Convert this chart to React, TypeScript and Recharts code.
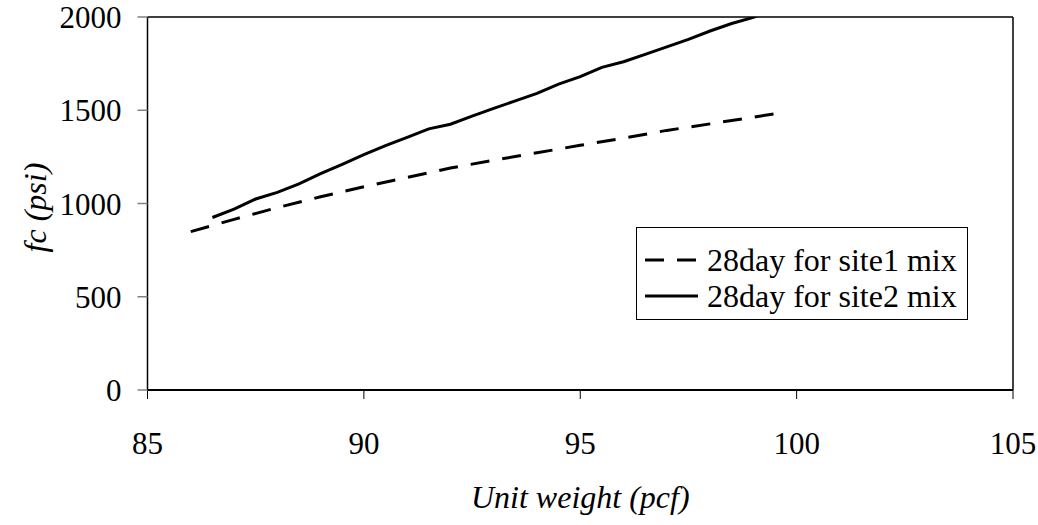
import React from 'react';
import { LineChart, Line, XAxis, YAxis, ReferenceLine, Legend, Label } from 'recharts';

const site1Weight = [86.0, 87.0, 88.0, 89.0, 90.0, 91.0, 92.0, 93.0, 94.0, 95.0, 96.0, 97.0, 98.0, 99.0, 99.6];
const site1Strength = [849, 915, 978, 1036, 1090, 1140, 1190, 1232, 1272, 1312, 1350, 1392, 1427, 1463, 1485];

const site2Weight = [86.5, 87.0, 87.5, 88.0, 88.5, 89.0, 89.5, 90.0, 90.5, 91.0, 91.5, 92.0, 92.5, 93.0, 93.5, 94.0, 94.5, 95.0, 95.5, 96.0, 96.5, 97.0, 97.5, 98.0, 98.5, 99.0, 99.1];
const site2Strength = [925, 970, 1024, 1060, 1105, 1160, 1210, 1262, 1310, 1355, 1400, 1425, 1468, 1510, 1550, 1590, 1640, 1680, 1730, 1760, 1800, 1840, 1880, 1925, 1965, 1998, 2008];

const seriesNames = ['28day for site1 mix', '28day for site2 mix'];
const xTicks = [85, 90, 95, 100, 105];
const yTicks = [0, 500, 1000, 1500, 2000];
const xTitle = 'Unit weight (pcf)';
const yTitle = 'fc (psi)';

const site1Data = site1Weight.map((w, i) => ({ w, fc: site1Strength[i] }));
const site2Data = site2Weight.map((w, i) => ({ w, fc: site2Strength[i] }));

const FONT = 'Liberation Serif, Tinos, Times, DejaVu Serif, serif';

const YTitle = (props: any) => {
  const vb = props.viewBox || {};
  const cx = vb.x + 35;
  const cy = vb.y + vb.height / 2 + 4;
  return (
    <text
      x={cx}
      y={cy}
      transform={`rotate(-90, ${cx}, ${cy})`}
      textAnchor="middle"
      dominantBaseline="central"
      fontFamily={FONT}
      fontStyle="italic"
      fontSize={32}
      fill="#000"
    >
      {yTitle}
    </text>
  );
};

const XTitle = (props: any) => {
  const vb = props.viewBox || {};
  return (
    <text
      x={vb.x + vb.width / 2}
      y={vb.y + 118}
      textAnchor="middle"
      fontFamily={FONT}
      fontStyle="italic"
      fontSize={32}
      fill="#000"
    >
      {xTitle}
    </text>
  );
};

const LegendBox = (props: any) => {
  const payload = props.payload || [];
  return (
    <div
      style={{
        border: '1.5px solid #000',
        background: '#fff',
        width: 332,
        height: 93,
        boxSizing: 'border-box',
        position: 'relative',
        fontFamily: FONT,
        fontSize: 32,
        color: '#000',
      }}
    >
      {payload.map((entry: any, i: number) => {
        const dashed = entry.value === seriesNames[0];
        return (
          <div
            key={entry.value}
            style={{
              position: 'absolute',
              left: 0,
              top: 14 + i * 36,
              height: 36,
              display: 'flex',
              alignItems: 'center',
              whiteSpace: 'nowrap',
            }}
          >
            <svg width={70} height={36} style={{ display: 'block' }}>
              <line
                x1={8}
                y1={18}
                x2={61}
                y2={18}
                stroke="#000"
                strokeWidth={3}
                strokeDasharray={dashed ? '19 13' : undefined}
              />
            </svg>
            <span style={{ lineHeight: '36px' }}>{entry.value}</span>
          </div>
        );
      })}
    </div>
  );
};

export default function App() {
  return (
    <div style={{ position: 'absolute', left: 0, top: 0, width: 1038, height: 525, background: '#fff' }}>
      <LineChart width={1038} height={525} margin={{ top: 17, right: 25, bottom: 0, left: 0 }}>
        <XAxis
          dataKey="w"
          type="number"
          domain={[85, 105]}
          ticks={xTicks}
          allowDuplicatedCategory={false}
          height={135}
          tickSize={9}
          tickMargin={33}
          axisLine={{ stroke: '#000', strokeWidth: 2 }}
          tickLine={{ stroke: '#000', strokeWidth: 1 }}
          tick={{ fill: '#000', fontSize: 31, fontFamily: FONT }}
          interval={0}
        >
          <Label content={<XTitle />} />
        </XAxis>
        <YAxis
          dataKey="fc"
          type="number"
          domain={[0, 2000]}
          ticks={yTicks}
          allowDataOverflow
          width={147.5}
          tickSize={10}
          tickMargin={16}
          axisLine={{ stroke: '#000', strokeWidth: 1.5 }}
          tickLine={{ stroke: '#808080', strokeWidth: 1.5 }}
          tick={{ fill: '#000', fontSize: 31, fontFamily: FONT }}
          interval={0}
        >
          <Label content={<YTitle />} />
        </YAxis>
        <ReferenceLine y={2000} stroke="#000" strokeWidth={1.5} />
        <ReferenceLine x={105} stroke="#000" strokeWidth={1.5} />
        <Line
          data={site1Data}
          dataKey="fc"
          name={seriesNames[0]}
          type="linear"
          stroke="#000"
          strokeWidth={3}
          strokeDasharray="19 13"
          dot={false}
          activeDot={false}
          isAnimationActive={false}
        />
        <Line
          data={site2Data}
          dataKey="fc"
          name={seriesNames[1]}
          type="linear"
          stroke="#000"
          strokeWidth={3}
          dot={false}
          activeDot={false}
          isAnimationActive={false}
        />
        <Legend
          layout="vertical"
          align="center"
          verticalAlign="middle"
          content={<LegendBox />}
          wrapperStyle={{ position: 'absolute', left: 636, top: 227, width: 332, height: 93 }}
        />
      </LineChart>
    </div>
  );
}
